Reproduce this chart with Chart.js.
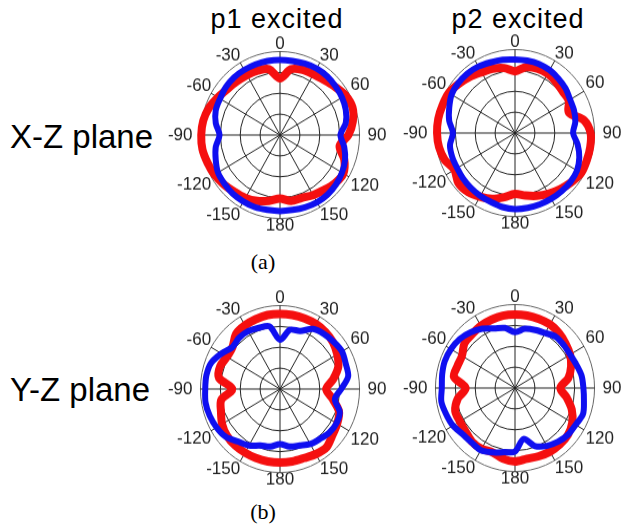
<!DOCTYPE html>
<html lang="en">
<head>
    <meta charset="UTF-8">
    <title>Radiation patterns</title>
    <script src="https://cdn.jsdelivr.net/npm/chart.js"></script>
    <style>
        body {
            margin: 0;
            background: #fff;
            font-family: "Liberation Sans", Arial, sans-serif;
        }
        .page {
            position: relative;
            width: 626px;
            height: 527px;
            overflow: hidden;
        }
        .title, .plane, .caption {
            position: absolute;
            color: #000;
            white-space: nowrap;
        }
        .title {
            font-size: 27px;
            letter-spacing: 1px;
            transform: translateX(-50%);
        }
        .plane {
            font-size: 33px;
            left: 10px;
        }
        .caption {
            font-family: "Liberation Serif", "Times New Roman", serif;
            font-size: 22px;
            transform: translateX(-50%);
        }
        /* 256x188 canvas -> scale centre at (128, 94), radius about 79.5 */
        .polar {
            position: absolute;
            width: 256px;
            height: 188px;
            transform: scaleY(1.05);
            transform-origin: 128px 94px;
        }
    </style>
</head>
<body>
<div class="page">
    <div class="title" style="left:277px; top:4px;">p1 excited</div>
    <div class="title" style="left:518px; top:4px;">p2 excited</div>

    <div class="plane" style="top:118px;">X-Z plane</div>
    <div class="plane" style="top:371px;">Y-Z plane</div>

    <div class="caption" style="left:263px; top:249px;">(a)</div>
    <div class="caption" style="left:263px; top:499px;">(b)</div>

    <!-- the four polar charts, centres at (280,135) (515,133) (280,389) (515,388) -->
    <div class="polar" style="left:152px; top:41px;"><canvas id="xzP1" width="256" height="188"></canvas></div>
    <div class="polar" style="left:387px; top:39px;"><canvas id="xzP2" width="256" height="188"></canvas></div>
    <div class="polar" style="left:152px; top:295px;"><canvas id="yzP1" width="256" height="188"></canvas></div>
    <div class="polar" style="left:387px; top:294px;"><canvas id="yzP2" width="256" height="188"></canvas></div>
</div>

<script>
    // angle of each sample, degrees clockwise from the top
    const angles = [0, 10, 20, 30, 40, 50, 60, 70, 80, 90, 100, 110, 120, 130, 140, 150, 160, 170,
                    180, 190, 200, 210, 220, 230, 240, 250, 260, 270, 280, 290, 300, 310, 320, 330, 340, 350];

    // labels on the spokes, every 30 degrees
    const spokeAngles = [0, 30, 60, 90, 120, 150, 180, 210, 240, 270, 300, 330];
    const spokeLabels = ['0', '30', '60', '90', '120', '150', '180', '-150', '-120', '-90', '-60', '-30'];

    // normalised pattern (outer ring = 1)
    // X-Z plane, p1 excited
    const xzP1Blue = [0.90, 0.90, 0.91, 0.92, 0.92, 0.91, 0.90, 0.88, 0.84, 0.76, 0.82, 0.87,
                      0.90, 0.92, 0.93, 0.93, 0.92, 0.91, 0.91, 0.91, 0.92, 0.92, 0.92, 0.91,
                      0.90, 0.86, 0.82, 0.76, 0.82, 0.86, 0.87, 0.89, 0.90, 0.90, 0.90, 0.90];
    const xzP1Red  = [0.68, 0.80, 0.83, 0.84, 0.86, 0.90, 0.95, 0.97, 0.93, 0.86, 0.76, 0.86,
                      0.92, 0.90, 0.86, 0.83, 0.80, 0.80, 0.76, 0.80, 0.84, 0.87, 0.89, 0.92,
                      0.95, 0.97, 0.99, 0.99, 0.98, 0.95, 0.90, 0.86, 0.84, 0.83, 0.82, 0.80];

    // X-Z plane, p2 excited
    const xzP2Blue = [0.88, 0.88, 0.88, 0.87, 0.85, 0.83, 0.80, 0.79, 0.77, 0.73, 0.80, 0.86,
                      0.90, 0.91, 0.91, 0.91, 0.91, 0.91, 0.91, 0.90, 0.88, 0.87, 0.86, 0.85,
                      0.84, 0.84, 0.83, 0.78, 0.84, 0.88, 0.92, 0.93, 0.93, 0.92, 0.90, 0.89];
    const xzP2Red  = [0.74, 0.80, 0.82, 0.82, 0.80, 0.78, 0.78, 0.72, 0.88, 0.95, 0.96, 0.96,
                      0.96, 0.92, 0.88, 0.84, 0.80, 0.76, 0.73, 0.78, 0.84, 0.88, 0.92, 0.93,
                      0.88, 0.94, 0.97, 0.98, 0.98, 0.97, 0.96, 0.92, 0.88, 0.84, 0.82, 0.79];

    // Y-Z plane, p1 excited
    const yzP1Blue = [0.59, 0.72, 0.74, 0.83, 0.86, 0.88, 0.90, 0.88, 0.87, 0.77, 0.70, 0.80,
                      0.82, 0.81, 0.78, 0.76, 0.72, 0.70, 0.66, 0.70, 0.72, 0.78, 0.82, 0.89,
                      0.92, 0.94, 0.95, 0.94, 0.94, 0.92, 0.85, 0.78, 0.80, 0.80, 0.78, 0.76];
    const yzP1Red  = [0.90, 0.90, 0.90, 0.90, 0.89, 0.87, 0.83, 0.78, 0.68, 0.58, 0.67, 0.79,
                      0.83, 0.86, 0.91, 0.90, 0.88, 0.88, 0.88, 0.88, 0.88, 0.88, 0.88, 0.87,
                      0.84, 0.79, 0.75, 0.60, 0.78, 0.80, 0.77, 0.78, 0.86, 0.88, 0.89, 0.90];

    // Y-Z plane, p2 excited
    const yzP2Blue = [0.67, 0.72, 0.74, 0.76, 0.80, 0.80, 0.80, 0.82, 0.85, 0.86, 0.88, 0.91,
                      0.88, 0.87, 0.84, 0.80, 0.74, 0.62, 0.76, 0.78, 0.82, 0.86, 0.85, 0.86,
                      0.90, 0.92, 0.94, 0.92, 0.93, 0.94, 0.93, 0.91, 0.87, 0.82, 0.76, 0.73];
    const yzP2Red  = [0.88, 0.88, 0.88, 0.88, 0.86, 0.83, 0.80, 0.75, 0.68, 0.57, 0.66, 0.76,
                      0.83, 0.87, 0.88, 0.88, 0.87, 0.86, 0.88, 0.86, 0.82, 0.84, 0.84, 0.81,
                      0.80, 0.80, 0.73, 0.62, 0.78, 0.77, 0.77, 0.83, 0.84, 0.86, 0.87, 0.88];

    const blue = 'rgb(15, 15, 240)';
    const red = 'rgb(245, 15, 15)';

    // label gap from the outer ring; side labels sit further out
    function labelPad(a) {
        if (a === 90 || a === 270) return 8;
        if (a === 60 || a === 120) return 2;
        return 0;
    }

    function makePolar(id, blueData, redData) {
        const ctx = document.getElementById(id).getContext('2d');
        return new Chart(ctx, {
            type: 'radar',
            data: {
                labels: angles,
                datasets: [{
                    label: 'x',
                    data: blueData,
                    borderColor: blue,
                    borderWidth: 6,
                    pointRadius: 0,
                    tension: 0.3,
                    fill: false,
                }, {
                    label: 'o',
                    data: redData,
                    borderColor: red,
                    borderWidth: 8,
                    pointRadius: 0,
                    tension: 0.3,
                    fill: false,
                }]
            },
            options: {
                responsive: false,
                animation: false,
                layout: { padding: 0 },
                plugins: {
                    legend: { display: false },
                    tooltip: { enabled: false },
                },
                scales: {
                    r: {
                        min: 0,
                        max: 1,
                        ticks: { display: false, stepSize: 0.25 },
                        grid: {
                            circular: true,
                            color: c => c.index === 4 ? '#666' : '#222',
                            lineWidth: 1,
                        },
                        angleLines: {
                            color: '#222',
                            lineWidth: c => spokeAngles.includes(angles[c.index]) ? 1 : 0,
                        },
                        pointLabels: {
                            color: '#222',
                            padding: c => labelPad(angles[c.index]),
                            font: { family: '"Liberation Sans", Arial, sans-serif', size: 17, lineHeight: 0.85 },
                            callback: (label, i) => {
                                const k = spokeAngles.indexOf(angles[i]);
                                return k >= 0 ? spokeLabels[k] : '';
                            },
                        },
                    },
                },
            }
        });
    }

    makePolar('xzP1', xzP1Blue, xzP1Red);
    makePolar('xzP2', xzP2Blue, xzP2Red);
    makePolar('yzP1', yzP1Blue, yzP1Red);
    makePolar('yzP2', yzP2Blue, yzP2Red);
</script>
</body>
</html>
